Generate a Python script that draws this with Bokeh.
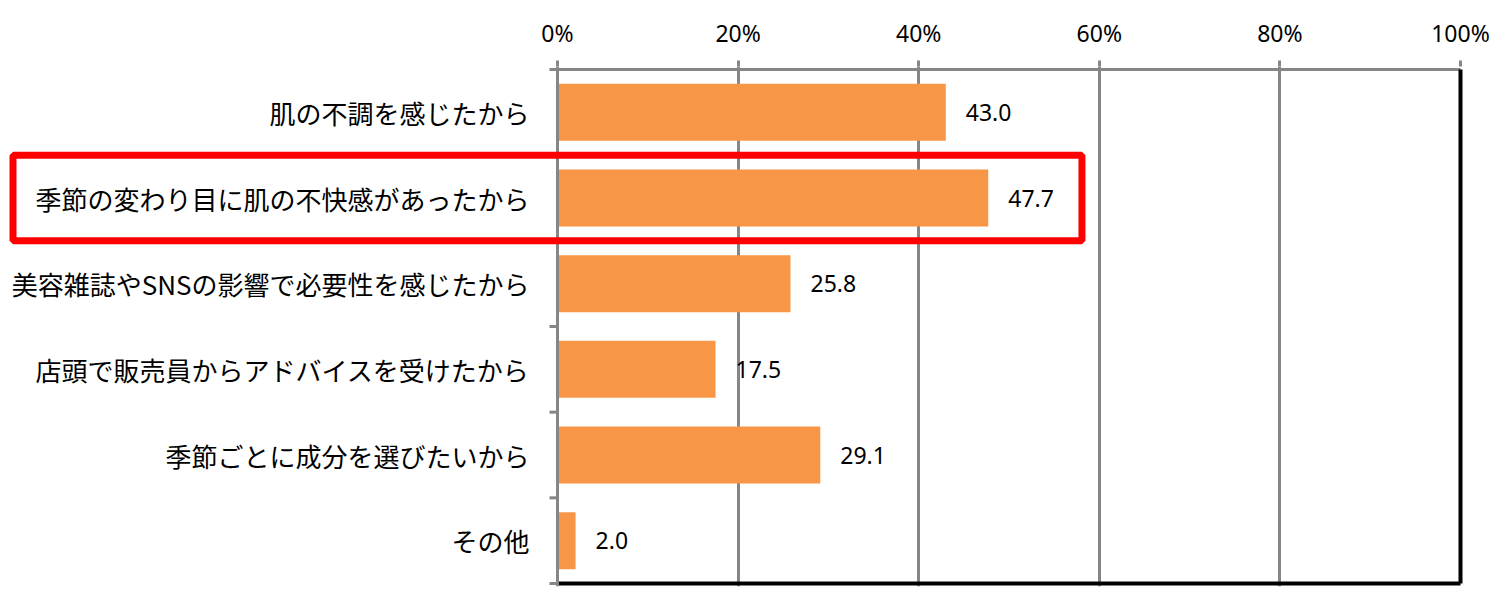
import math
from bokeh.plotting import figure
from bokeh.models import (ColumnDataSource, Range1d, FixedTicker, PrintfTickFormatter,
                          Span, BoxAnnotation)
from bokeh.core.properties import value
from bokeh.embed import file_html
from bokeh.resources import INLINE

categories = [
    "肌の不調を感じたから",
    "季節の変わり目に肌の不快感があったから",
    "美容雑誌やSNSの影響で必要性を感じたから",
    "店頭で販売員からアドバイスを受けたから",
    "季節ごとに成分を選びたいから",
    "その他",
]
values = [43.0, 47.7, 25.8, 17.5, 29.1, 2.0]
x_ticks = [0, 20, 40, 60, 80, 100]
highlight = "季節の変わり目に肌の不快感があったから"

n = len(categories)
ypos = [n - 0.5 - i for i in range(n)]
labels = ["%.1f" % v for v in values]
src = ColumnDataSource(dict(y=ypos, v=values, lab=labels, cat=categories))

GRAY = "#868686"
JP = "Noto Sans CJK JP"
NUM = "Noto Sans"

# layout (pixels)
W, H = 1495, 597
X0, X100 = 557, 1460          # canvas x of 0% and 100%
TOP, ROWS_H = 69, 514          # plot area top and height
PAD = 3                        # extra frame pixels above/below
pxu = (X100 - X0) / 100.0
rowpx = ROWS_H / n

p = figure(frame_width=W, frame_height=ROWS_H + 2 * PAD,
           min_border_left=0, min_border_right=0,
           min_border_top=TOP - PAD, min_border_bottom=H - (TOP - PAD) - (ROWS_H + 2 * PAD) - 3,
           x_range=Range1d(-X0 / pxu, (W - X0) / pxu),
           y_range=Range1d(-PAD / rowpx, n + PAD / rowpx),
           x_axis_location="above", y_axis_location=None,
           output_backend="svg", toolbar_location=None,
           background_fill_color="white", border_fill_color="white")
p.outline_line_color = None

p.xgrid.ticker = FixedTicker(ticks=x_ticks[1:-1])
p.xgrid.grid_line_color = GRAY
p.xgrid.grid_line_width = 3
p.ygrid.grid_line_color = None

p.hbar(y="y", right="v", left=0, height=0.665, source=src,
       fill_color="#F79646", line_color=None)

# frame lines of the plot area
p.segment(x0=[x_ticks[0]], x1=[x_ticks[-1]], y0=[n], y1=[n], line_color=GRAY, line_width=3)
p.segment(x0=[x_ticks[0], x_ticks[-1]], x1=[x_ticks[-1], x_ticks[-1]],
          y0=[0, 0], y1=[0, n], line_color="black", line_width=4)
p.add_layout(Span(location=x_ticks[0], dimension="height", line_color=GRAY, line_width=3))

# category boundary ticks on the left axis
p.ray(x=[0] * (n + 1), y=list(range(n + 1)), length=8, length_units="screen",
      angle=math.pi, line_color=GRAY, line_width=3)

# category labels
p.text(x=0, y="y", text="cat", source=src, x_offset=-28,
       text_align="right", text_baseline="middle",
       text_font=value(JP), text_font_size="26px", text_color="black")

# value labels
p.text(x="v", y="y", text="lab", source=src, x_offset=20,
       text_align="left", text_baseline="middle",
       text_font=value(NUM), text_font_size="23px", text_color="black")

# x axis (top)
xa = p.xaxis[0]
xa.ticker = FixedTicker(ticks=x_ticks, minor_ticks=[])
xa.formatter = PrintfTickFormatter(format="%d%%")
xa.axis_line_color = None
xa.major_tick_line_color = GRAY
xa.major_tick_line_width = 3
xa.major_tick_out = 6
xa.major_tick_in = 0
xa.minor_tick_line_color = None
xa.major_label_text_font = NUM
xa.major_label_text_font_size = "23px"
xa.major_label_text_color = "black"
xa.major_label_standoff = 12

hi = categories.index(highlight)
p.add_layout(BoxAnnotation(left=12.5, left_units="canvas",
                           right=58.08, top=ypos[hi] + 0.5, bottom=ypos[hi] - 0.5,
                           fill_color=None, fill_alpha=0, line_color="#FF0000",
                           line_width=7, line_alpha=1))

open("out.html", "w").write(file_html(p, INLINE))
